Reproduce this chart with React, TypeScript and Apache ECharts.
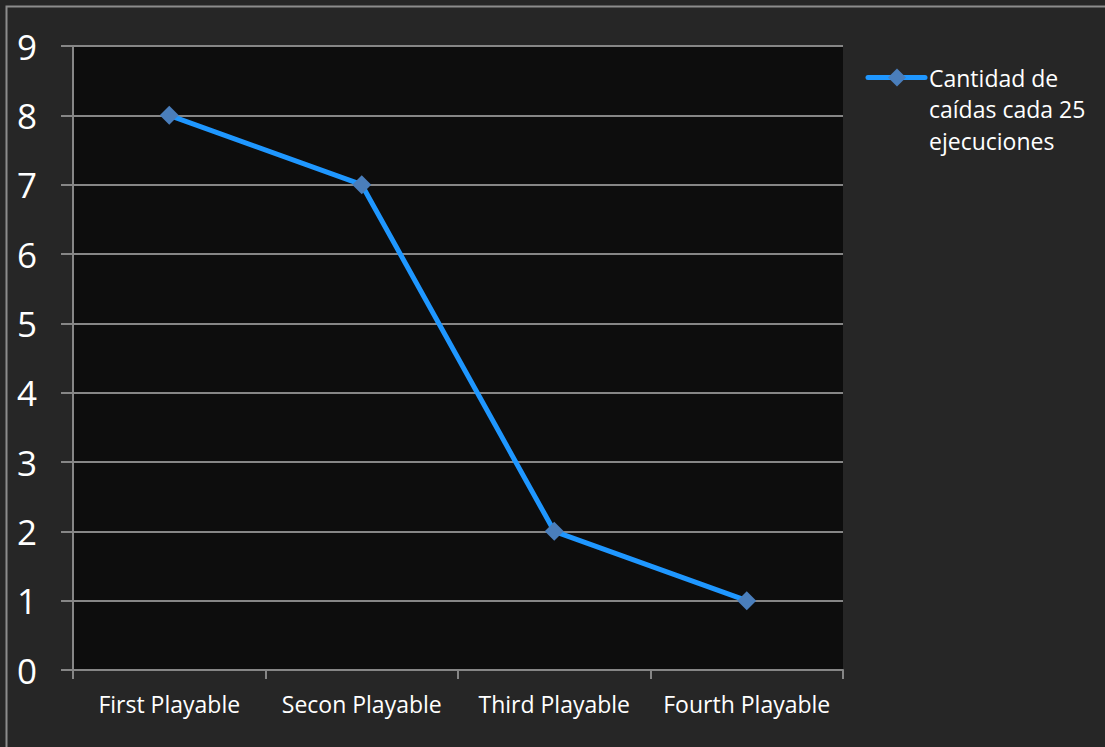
import React, { useEffect, useRef } from "react";
import * as echarts from "echarts";

const categories = ["First Playable", "Secon Playable", "Third Playable", "Fourth Playable"];
const seriesName = "Cantidad de caídas cada 25 ejecuciones";
const values = [8, 7, 2, 1];
const legendLines = ["Cantidad de", "caídas cada 25", "ejecuciones"];

const FONT = "'Open Sans', 'Noto Sans', sans-serif";
const GRID_COLOR = "#868686";
const LINE_COLOR = "#1f97ff";
const MARKER_COLOR = "#4a7ebb";

export default function App() {
  const ref = useRef<HTMLDivElement>(null);

  useEffect(() => {
    document.body.style.margin = "0";
    const chart = echarts.init(ref.current!, null, { renderer: "svg" });

    // Hand-drawn legend: line with diamond, and the wrapped series name beside it.
    const legendY = 77.5;
    const legendGraphic = [
      {
        type: "line",
        shape: { x1: 868, y1: legendY, x2: 925, y2: legendY },
        style: { stroke: LINE_COLOR, lineWidth: 5, lineCap: "round" },
        silent: true,
      },
      {
        type: "polygon",
        shape: {
          points: [
            [897, legendY - 9],
            [906, legendY],
            [897, legendY + 9],
            [888, legendY],
          ],
        },
        style: { fill: MARKER_COLOR },
        silent: true,
      },
      ...legendLines.map((line, i) => ({
        type: "text",
        x: 929,
        y: legendY + i * 31.5,
        style: {
          text: line,
          fill: "#ffffff",
          font: `23px ${FONT}`,
          verticalAlign: "middle",
          align: "left",
        },
        silent: true,
      })),
    ];

    chart.setOption({
      animation: false,
      backgroundColor: "#262626",
      textStyle: { fontFamily: FONT },
      graphic: [
        // Frame edge: only the top and left sides fall inside the canvas.
        {
          type: "rect",
          shape: { x: 6.5, y: 6.5, width: 1200, height: 800 },
          style: { fill: "none", stroke: "#8c8c8c", lineWidth: 2 },
          silent: true,
        },
        ...legendGraphic,
      ],
      grid: {
        left: 73,
        top: 46,
        right: 262,
        bottom: 77,
        show: true,
        backgroundColor: "#0d0d0d",
        borderWidth: 0,
      },
      xAxis: {
        type: "category",
        data: categories,
        boundaryGap: true,
        axisLine: { show: true, lineStyle: { color: GRID_COLOR, width: 2 } },
        axisTick: { show: true, interval: 0, length: 9, lineStyle: { color: GRID_COLOR, width: 2 } },
        axisLabel: { color: "#ffffff", fontSize: 23, interval: 0, margin: 22, fontFamily: FONT },
        splitLine: { show: false },
      },
      yAxis: {
        type: "value",
        min: 0,
        max: 9,
        interval: 1,
        axisLine: { show: true, lineStyle: { color: GRID_COLOR, width: 2 } },
        axisTick: { show: true, length: 12, lineStyle: { color: GRID_COLOR, width: 2 } },
        axisLabel: { color: "#ffffff", fontSize: 35, margin: 36, fontFamily: FONT },
        splitLine: { show: true, lineStyle: { color: GRID_COLOR, width: 2 } },
      },
      series: [
        {
          name: seriesName,
          type: "line",
          data: values,
          symbol: "diamond",
          symbolSize: 19,
          lineStyle: { color: LINE_COLOR, width: 5 },
          itemStyle: { color: MARKER_COLOR },
        },
      ],
    });
    return () => chart.dispose();
  }, []);

  return <div ref={ref} style={{ width: 1105, height: 747 }} />;
}
